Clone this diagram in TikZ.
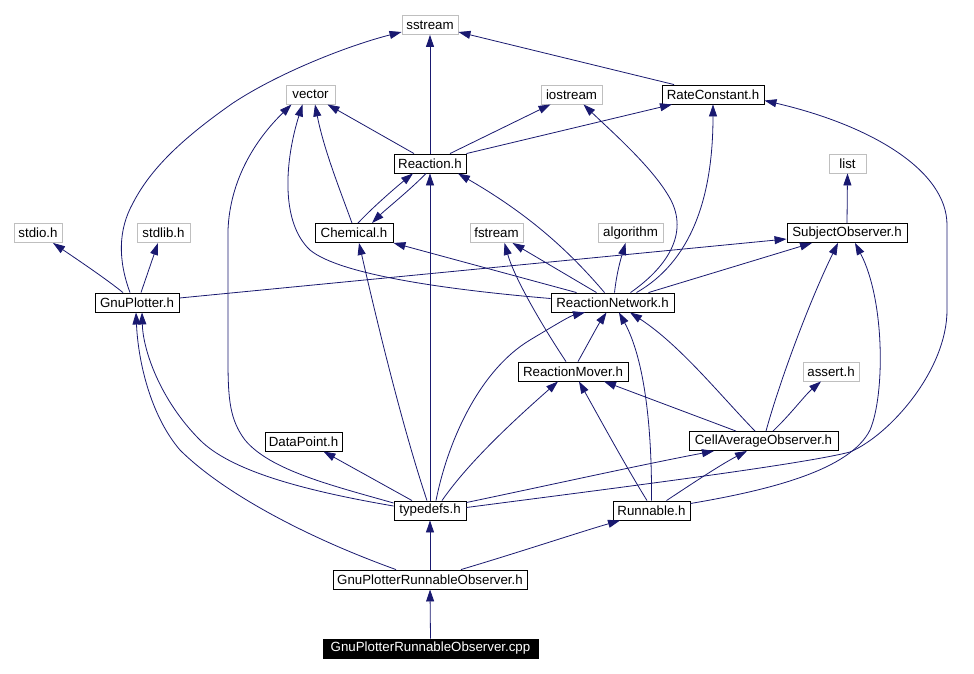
\documentclass[tikz,border=0pt]{standalone}
\usepackage{fontspec}
\setmainfont{Liberation Sans}
\usetikzlibrary{arrows.meta}
\definecolor{edgeblue}{HTML}{191970}
\definecolor{boxgray}{HTML}{BFBFBF}
\begin{document}
\begin{tikzpicture}[x=1pt,y=-1pt,
  every node/.style={font=\fontsize{13.3}{15}\selectfont, minimum height=19pt, inner sep=0pt, line width=0.9pt},
  sysbox/.style={draw=boxgray},
  filebox/.style={draw=black},
  mainbox/.style={draw=black, fill=black, text=white},
  e/.style={draw=edgeblue, line width=0.8pt, -{Triangle[length=12pt,width=8pt]}}]
\fill[white] (0,0) rectangle (974,673);
\useasboundingbox (0,0) rectangle (974,673);
% nodes
\node[sysbox, minimum width=56pt]  (sstream) at (430,25) {sstream};
\node[sysbox, minimum width=49pt]  (vector) at (310.5,94.5) {vector};
\node[sysbox, minimum width=61pt]  (iostream) at (571.5,94.5) {iostream};
\node[filebox, minimum width=102pt] (RateConstant) at (713,94.5) {RateConstant.h};
\node[filebox, minimum width=72pt] (Reaction) at (430,163.5) {Reaction.h};
\node[sysbox, minimum width=37pt]  (list) at (847.5,163.5) {list};
\node[sysbox, minimum width=48pt]  (stdio) at (38,233) {stdio.h};
\node[sysbox, minimum width=53pt]  (stdlib) at (163.5,233) {stdlib.h};
\node[filebox, minimum width=78pt] (Chemical) at (354,233) {Chemical.h};
\node[sysbox, minimum width=53pt]  (fstream) at (496.5,233) {fstream};
\node[sysbox, minimum width=65pt]  (algorithm) at (630.5,233) {algorithm};
\node[filebox, minimum width=120pt] (SubjectObserver) at (847,233) {SubjectObserver.h};
\node[filebox, minimum width=84pt] (GnuPlotter) at (137,302.5) {GnuPlotter.h};
\node[filebox, minimum width=123pt] (ReactionNetwork) at (612.5,302.5) {ReactionNetwork.h};
\node[filebox, minimum width=110pt] (ReactionMover) at (573,371.5) {ReactionMover.h};
\node[sysbox, minimum width=56pt]  (assert) at (831,371.5) {assert.h};
\node[filebox, minimum width=77pt] (DataPoint) at (303.5,441.5) {DataPoint.h};
\node[filebox, minimum width=149pt] (CellAvg) at (763.5,441) {CellAverageObserver.h};
\node[filebox, minimum width=72pt] (typedefs) at (430,510.5) {typedefs.h};
\node[filebox, minimum width=77pt] (Runnable) at (651.5,510.5) {Runnable.h};
\node[filebox, minimum width=194pt] (GPRO) at (430,579.5) {GnuPlotterRunnableObserver.h};
\node[mainbox, minimum width=215pt] (cpp) at (430.5,648.5) {GnuPlotterRunnableObserver.cpp};
% edges
\path[e] ([xshift=-7pt]GnuPlotter.north) .. controls (118,260) and (118,230) .. (133,203) .. controls (150,170) and (180,140) .. (233,103) .. controls (280,72) and (350,45) .. ([yshift=-7pt]sstream.west);
\path[e] (Reaction.north) -- (sstream.south);
\path[e] ([xshift=-39pt]RateConstant.north) -- ([yshift=-7pt]sstream.east);
\path[e] ([xshift=-16pt]Reaction.north) -- ([xshift=17pt]vector.south);
\path[e] ([xshift=20pt]Reaction.north) -- ([xshift=-21pt]iostream.south);
\path[e] (Reaction.north east) -- ([xshift=-41pt]RateConstant.south);
\path[e] ([xshift=-2pt]Chemical.north) .. controls (340,190) and (324,150) .. ([xshift=4.5pt]vector.south);
\path[e] ([xshift=4pt]Chemical.north) .. controls (372,208) and (395,188) .. ([xshift=-17pt]Reaction.south);
\path[e] ([xshift=-4pt]Reaction.south) .. controls (410,190) and (385,210) .. ([xshift=18pt]Chemical.north);
\path[e] ([xshift=-14pt]GnuPlotter.north) .. controls (105,278) and (75,258) .. ([xshift=15pt]stdio.south);
\path[e] ([xshift=4pt]GnuPlotter.north) -- ([xshift=-5.5pt]stdlib.south);
\path[e] ([yshift=4.5pt]GnuPlotter.east) -- ([yshift=-6pt]SubjectObserver.west);
\path[e] ([yshift=4pt]ReactionNetwork.west) .. controls (450,290) and (340,275) .. (310,250) .. controls (280,222) and (285,160) .. ([xshift=-8pt]vector.south);
\path[e] ([xshift=-36pt]ReactionNetwork.north) -- (Chemical.south east);
\path[e] ([xshift=-8pt]ReactionNetwork.north) .. controls (570,252) and (530,215) .. ([xshift=28pt]Reaction.south);
\path[e] ([xshift=-16pt]ReactionNetwork.north) -- ([xshift=16pt]fstream.south);
\path[e] ([xshift=2pt]ReactionNetwork.north) .. controls (617,270) and (622,255) .. ([xshift=-5pt]algorithm.south);
\path[e] ([xshift=18pt]ReactionNetwork.north) .. controls (670,265) and (690,230) .. (668,195) .. controls (650,165) and (610,130) .. ([xshift=12pt]iostream.south);
\path[e] ([xshift=24pt]ReactionNetwork.north) .. controls (690,262) and (713,200) .. (RateConstant.south);
\path[e] ([xshift=36pt]ReactionNetwork.north) -- ([xshift=-35pt]SubjectObserver.south);
\path[e] (SubjectObserver.north) -- (list.south);
\path[e] ([xshift=-7pt]ReactionMover.north) .. controls (545,330) and (515,280) .. ([xshift=8pt]fstream.south);
\path[e] ([xshift=5pt]ReactionMover.north) .. controls (590,340) and (598,325) .. ([xshift=-6pt]ReactionNetwork.south);
\path[e] ([yshift=7.5pt]typedefs.west) .. controls (330,485) and (270,470) .. (245,440) .. controls (230,420) and (228,400) .. (228,360) -- (228,230) .. controls (230,180) and (255,140) .. ([xshift=-19pt]vector.south);
\path[e] ([yshift=4.5pt]typedefs.west) .. controls (300,490) and (230,470) .. (200,440) .. controls (160,400) and (143,350) .. ([xshift=5pt]GnuPlotter.south);
\path[e] ([xshift=-3pt]typedefs.north) .. controls (400,420) and (372,300) .. ([xshift=5pt]Chemical.south);
\path[e] (typedefs.north) -- (Reaction.south);
\path[e] ([xshift=-18pt]typedefs.north) -- ([xshift=20pt]DataPoint.south);
\path[e] ([xshift=12pt]typedefs.north) .. controls (470,460) and (520,415) .. ([xshift=-15pt]ReactionMover.south);
\path[e] ([xshift=6pt]typedefs.north) .. controls (448,440) and (480,370) .. (530,340) .. controls (555,325) and (570,316) .. ([xshift=-27.5pt]ReactionNetwork.south);
\path[e] ([yshift=8pt]typedefs.east) .. controls (550,485) and (640,465) .. ([xshift=-49.5pt]CellAvg.south);
\path[e] ([yshift=3pt]typedefs.east) .. controls (600,490) and (800,465) .. (850,452) .. controls (890,435) and (947,370) .. (947,310) -- (947,225) .. controls (947,170) and (870,125) .. ([yshift=-6pt]RateConstant.east);
\path[e] ([xshift=2.5pt]CellAvg.north) .. controls (780,380) and (810,300) .. ([xshift=-9pt]SubjectObserver.south);
\path[e] ([xshift=9.5pt]CellAvg.north) .. controls (790,415) and (805,395) .. ([xshift=-10pt]assert.south);
\path[e] ([xshift=-27.5pt]CellAvg.north) -- ([xshift=31pt]ReactionMover.south);
\path[e] ([xshift=-8.5pt]CellAvg.north) .. controls (720,395) and (680,345) .. ([xshift=17.5pt]ReactionNetwork.south);
\path[e] ([xshift=-4.5pt]Runnable.north) .. controls (625,465) and (595,410) .. ([xshift=6pt]ReactionMover.south);
\path[e] (Runnable.north) .. controls (652,430) and (645,360) .. ([xshift=6.5pt]ReactionNetwork.south);
\path[e] ([xshift=15pt]Runnable.north) .. controls (690,485) and (720,465) .. ([xshift=-16.5pt]CellAvg.south);
\path[e] ([yshift=7pt]Runnable.east) .. controls (770,490) and (850,470) .. (870,430) .. controls (885,395) and (885,300) .. ([xshift=8pt]SubjectObserver.south);
\path[e] (GPRO.north) -- (typedefs.south);
\path[e] ([xshift=31pt]GPRO.north) .. controls (520,552) and (580,532) .. ([xshift=-31.5pt]Runnable.south);
\path[e] ([xshift=-34pt]GPRO.north) .. controls (300,535) and (220,490) .. (180,450) .. controls (150,415) and (138,360) .. ([xshift=-1pt]GnuPlotter.south);
\path[e] (cpp.north) -- (GPRO.south);
\end{tikzpicture}
\end{document}
